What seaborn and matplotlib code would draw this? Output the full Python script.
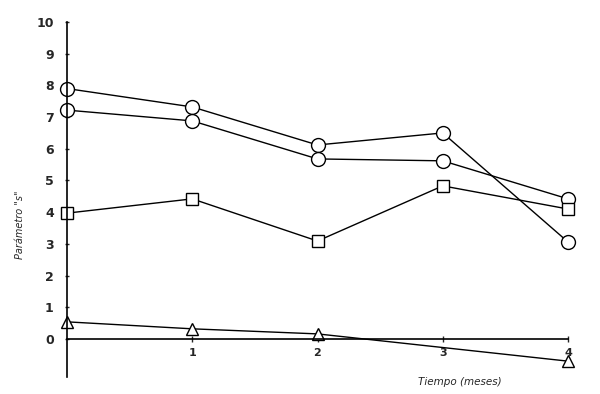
import matplotlib
matplotlib.use("Agg")
import matplotlib.pyplot as plt
import seaborn as sns
import numpy as np

sns.set_style("white")
plt.rcParams['font.family'] = ['DejaVu Sans']

months = [0, 1, 2, 3, 4]
serie_a = [7.9, 7.32, 6.12, 6.5, 3.06]     # circles (upper)
serie_b = [7.22, 6.88, 5.68, 5.62, 4.42]   # circles (second)
serie_c = [3.97, 4.42, 3.09, 4.83, 4.1]    # squares
months_d = [0, 1, 2, 4]
serie_d = [0.54, 0.32, 0.16, -0.7]         # triangles

y_ticks = list(range(0, 11))
x_ticks = [1, 2, 3, 4]

fig = plt.figure(figsize=(6, 3.94), dpi=100)
ax = fig.add_axes([67/600, (394-377)/394, 501/600, (377-22)/394])

common = dict(color="black", linewidth=1.0, markerfacecolor="white",
              markeredgecolor="black", markeredgewidth=1.0, clip_on=False)
sns.lineplot(x=months, y=serie_a, marker="o", markersize=10, ax=ax, **common)
sns.lineplot(x=months, y=serie_b, marker="o", markersize=10, ax=ax, **common)
sns.lineplot(x=months, y=serie_c, marker="s", markersize=9, ax=ax, **common)
sns.lineplot(x=months_d, y=serie_d, marker="^", markersize=9, ax=ax, **common)

ax.set_xlim(0, 4)
ax.set_ylim(-1.2, 10)

for s in ["top", "right"]:
    ax.spines[s].set_visible(False)
ax.spines["left"].set_position(("data", 0))
ax.spines["left"].set_bounds(-1.2, 10)
ax.spines["bottom"].set_position(("data", 0))
ax.spines["bottom"].set_bounds(0, 4)
ax.spines["left"].set_linewidth(1.2)
ax.spines["bottom"].set_linewidth(1.2)
ax.spines["left"].set_color("black")
ax.spines["bottom"].set_color("black")

ax.set_yticks(y_ticks)
ax.set_yticklabels([str(v) for v in y_ticks], fontsize=9, fontweight="bold")
ax.set_xticks(x_ticks)
ax.set_xticklabels([str(v) for v in x_ticks], fontsize=8, fontweight="bold")
ax.tick_params(axis="y", direction="inout", length=3, width=1, pad=8, left=True)
ax.tick_params(axis="x", direction="inout", length=5, width=1, pad=4, bottom=True)

ax.set_xlabel("")
ax.set_ylabel("")
fig.text(20/600, 1-225/394, 'Parámetro "s"', rotation=90, fontsize=7,
         ha="center", va="center", fontstyle="italic")
fig.text(460/600, 1-382/394, "Tiempo (meses)", fontsize=7.5,
         ha="center", va="center", fontstyle="italic")

fig.savefig("out.png", dpi=100, facecolor="white")
